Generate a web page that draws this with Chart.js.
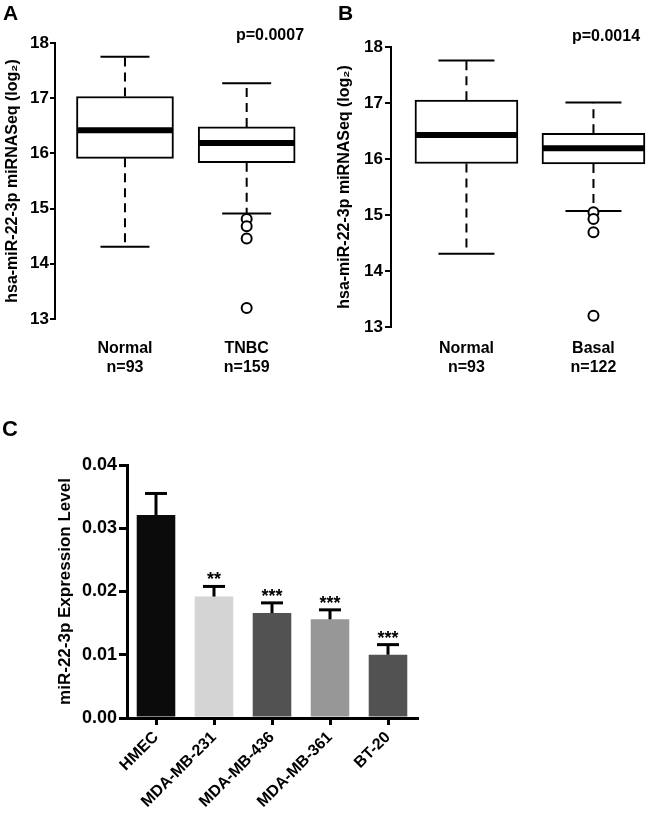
<!DOCTYPE html>
<html>
<head>
<meta charset="utf-8">
<script src="https://cdn.jsdelivr.net/npm/chart.js@4.4.0/dist/chart.umd.min.js"></script>
<style>
  body { margin: 0; background: #fff; font-family: 'Liberation Sans', Arial, sans-serif; }
  #page { position: relative; width: 650px; height: 817px; }
  canvas { position: absolute; }
  .lbl { position: absolute; font-weight: bold; color: #000; line-height: 1; white-space: nowrap; }
</style>
</head>
<body>
<div id="page">
  <canvas id="chartA" width="325" height="380" style="left:0;top:0"></canvas>
  <canvas id="chartB" width="325" height="380" style="left:325px;top:0"></canvas>
  <canvas id="chartC" width="420" height="437" style="left:0;top:380px"></canvas>
  <div class="lbl" style="left:3px;top:2px;font-size:21px">A</div>
  <div class="lbl" style="left:338px;top:2px;font-size:21px">B</div>
  <div class="lbl" style="left:2px;top:418px;font-size:22px">C</div>
  <div class="lbl" style="left:236px;top:27px;font-size:16px">p=0.0007</div>
  <div class="lbl" style="left:572px;top:28px;font-size:16px">p=0.0014</div>
</div>
<script>
Chart.defaults.font.family = "'Liberation Sans', Arial, sans-serif";
Chart.defaults.font.weight = 'bold';
Chart.defaults.color = '#000';

// Panel A: Normal vs TNBC (box stats)
const groupsA = ['Normal', 'TNBC'];
const countsA = ['n=93', 'n=159'];
const lowA = [14.31, 14.91];
const q1A = [15.91, 15.83];
const medianA = [16.42, 16.19];
const q3A = [17.03, 16.48];
const highA = [17.75, 17.27];
const outliersA = [[], [14.81, 14.68, 14.46, 13.2]];

// Panel B: Normal vs Basal
const groupsB = ['Normal', 'Basal'];
const countsB = ['n=93', 'n=122'];
const lowB = [14.31, 15.07];
const q1B = [15.92, 15.91];
const medianB = [16.43, 16.19];
const q3B = [17.05, 16.46];
const highB = [17.76, 17.01];
const outliersB = [[], [15.05, 14.93, 14.69, 13.2]];

// Panel C: qPCR in cell lines
const cellLines = ['HMEC', 'MDA-MB-231', 'MDA-MB-436', 'MDA-MB-361', 'BT-20'];
const expression = [0.0321, 0.0192, 0.0166, 0.0156, 0.0100];
const expressionErr = [0.0034, 0.0016, 0.0016, 0.0015, 0.0016];
const stars = ['', '**', '***', '***', '***'];
const barColors = ['#0b0b0b', '#d4d4d4', '#525252', '#979797', '#525252'];

function line(ctx, x0, y0, x1, y1) {
  ctx.beginPath();
  ctx.moveTo(x0, y0);
  ctx.lineTo(x1, y1);
  ctx.stroke();
}

function makeBox(id, groups, counts, low, q1, median, q3, high, outliers, look) {
  let points = [];
  for (let i = 0; i < outliers.length; i++) {
    for (let j = 0; j < outliers[i].length; j++) {
      points.push({x: i + 1, y: outliers[i][j]});
    }
  }

  // whiskers + caps go under the boxes, the median on top
  const whiskers = {
    id: 'whiskers',
    beforeDatasetsDraw(chart) {
      const ctx = chart.ctx, x = chart.scales.x, y = chart.scales.y;
      ctx.save();
      ctx.strokeStyle = '#000';
      for (let i = 0; i < groups.length; i++) {
        const cx = x.getPixelForValue(i + 1);
        ctx.lineWidth = 2;
        ctx.setLineDash([9, 6]);
        line(ctx, cx, y.getPixelForValue(q3[i]), cx, y.getPixelForValue(high[i]));
        line(ctx, cx, y.getPixelForValue(q1[i]), cx, y.getPixelForValue(low[i]));
        ctx.setLineDash([]);
        line(ctx, cx - look.cap / 2, y.getPixelForValue(high[i]), cx + look.cap / 2, y.getPixelForValue(high[i]));
        line(ctx, cx - look.cap / 2, y.getPixelForValue(low[i]), cx + look.cap / 2, y.getPixelForValue(low[i]));
      }
      ctx.restore();
    },
    afterDatasetsDraw(chart) {
      const ctx = chart.ctx, x = chart.scales.x, y = chart.scales.y;
      ctx.save();
      ctx.strokeStyle = '#000';
      ctx.lineWidth = 6;
      for (let i = 0; i < groups.length; i++) {
        const cx = x.getPixelForValue(i + 1);
        const ym = y.getPixelForValue(median[i]);
        line(ctx, cx - look.box / 2 + 1, ym, cx + look.box / 2 - 1, ym);
      }
      ctx.restore();
    }
  };

  return new Chart(document.getElementById(id), {
    type: 'bar',
    data: {
      datasets: [
        {
          type: 'scatter',
          data: points,
          pointStyle: 'circle',
          pointRadius: 5,
          pointBorderWidth: 2,
          pointBackgroundColor: '#fff',
          pointBorderColor: '#000',
          clip: false
        },
        {
          data: groups.map((g, i) => ({x: i + 1, y: [q1[i], q3[i]]})),
          backgroundColor: '#fff',
          borderColor: '#000',
          borderWidth: 2,
          borderSkipped: false,
          barThickness: look.box,
          clip: false
        }
      ]
    },
    options: {
      responsive: false,
      animation: false,
      layout: {padding: {top: look.top, right: look.right, left: 0, bottom: 0}},
      plugins: {legend: {display: false}, tooltip: {enabled: false}},
      scales: {
        x: {
          type: 'linear',
          offset: false,
          min: look.xMin,
          max: look.xMax,
          grid: {display: false},
          border: {display: false},
          afterBuildTicks: s => { s.ticks = groups.map((g, i) => ({value: i + 1})); },
          afterFit: s => { s.height = look.xHeight; },
          ticks: {
            padding: look.xPad,
            font: {size: 16, weight: 'bold', lineHeight: 1.2},
            callback: (v, i) => [groups[i], counts[i]]
          }
        },
        y: {
          min: 13,
          max: 18,
          ticks: {stepSize: 1, padding: look.yPad, font: {size: 17, weight: 'bold'}},
          grid: {drawOnChartArea: false, drawTicks: true, tickLength: look.tick, lineWidth: 2, color: '#000'},
          border: {display: true, color: '#000', width: 2},
          title: {
            display: true,
            text: 'hsa-miR-22-3p miRNASeq (log\u2082)',
            font: {size: 16, weight: 'bold'},
            padding: {top: look.titlePad, bottom: 0}
          },
          afterFit: s => { s.width = look.yWidth; }
        }
      }
    },
    plugins: [whiskers]
  });
}

const boxA = makeBox('chartA', groupsA, countsA, lowA, q1A, medianA, q3A, highA, outliersA,
  {box: 97, cap: 49, top: 43, right: 12, xMin: 0.425, xMax: 2.545, xHeight: 61, xPad: 12,
   yPad: 1, tick: 5, titlePad: 3, yWidth: 55});

const boxB = makeBox('chartB', groupsB, countsB, lowB, q1B, medianB, q3B, highB, outliersB,
  {box: 103, cap: 56, top: 47, right: 0, xMin: 0.406, xMax: 2.39, xHeight: 53, xPad: 4,
   yPad: 2, tick: 6, titlePad: 10, yWidth: 66});

// error bars and significance stars for panel C
const errorBars = {
  id: 'errorBars',
  afterDatasetsDraw(chart) {
    const ctx = chart.ctx, y = chart.scales.y;
    const bars = chart.getDatasetMeta(0).data;
    ctx.save();
    ctx.strokeStyle = '#000';
    ctx.fillStyle = '#000';
    ctx.lineWidth = 3;
    ctx.font = "bold 18px 'Liberation Sans', Arial, sans-serif";
    ctx.textAlign = 'center';
    ctx.textBaseline = 'alphabetic';
    for (let i = 0; i < bars.length; i++) {
      const cx = bars[i].x;
      const y0 = y.getPixelForValue(expression[i]);
      const y1 = y.getPixelForValue(expression[i] + expressionErr[i]);
      line(ctx, cx, y0, cx, y1);
      line(ctx, cx - 11, y1, cx + 11, y1);
      if (stars[i]) ctx.fillText(stars[i], cx, y1 - 1);
    }
    ctx.restore();
  }
};

const barC = new Chart(document.getElementById('chartC'), {
  type: 'bar',
  data: {
    labels: cellLines,
    datasets: [{
      data: expression,
      backgroundColor: barColors,
      borderWidth: 0,
      categoryPercentage: 1,
      barPercentage: 0.665
    }]
  },
  options: {
    responsive: false,
    animation: false,
    layout: {padding: {top: 85, right: 3, left: 0, bottom: 0}},
    plugins: {legend: {display: false}, tooltip: {enabled: false}},
    scales: {
      x: {
        grid: {drawOnChartArea: false, offset: false, tickLength: 7, lineWidth: 3, color: '#000'},
        border: {color: '#000', width: 3},
        ticks: {autoSkip: false, minRotation: 45, maxRotation: 45, padding: 3, font: {size: 16, weight: 'bold'}},
        afterFit: s => { s.height = 99; }
      },
      y: {
        min: 0,
        max: 0.04,
        ticks: {stepSize: 0.01, padding: 2, font: {size: 18, weight: 'bold'}, callback: v => v.toFixed(2)},
        grid: {drawOnChartArea: false, tickLength: 8, lineWidth: 3, color: '#000'},
        border: {color: '#000', width: 3},
        title: {
          display: true,
          text: 'miR-22-3p Expression Level',
          font: {size: 17, weight: 'bold'},
          padding: {top: 55, bottom: 0}
        },
        afterFit: s => { s.width = 127; }
      }
    }
  },
  plugins: [errorBars]
});
</script>
</body>
</html>
